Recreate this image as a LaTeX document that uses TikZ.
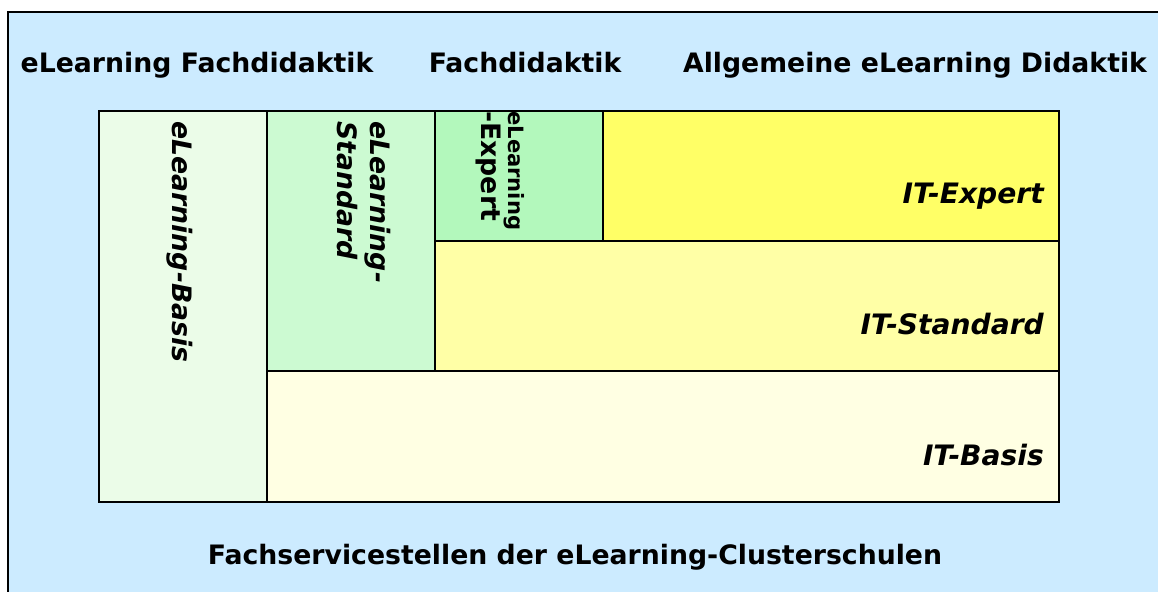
\documentclass[tikz,border=0pt]{standalone}
\usepackage{fontspec}
\setmainfont{DejaVu Sans}
\definecolor{skyback}{HTML}{CCEBFF}
\definecolor{elbasis}{HTML}{EBFCE8}
\definecolor{elstandard}{HTML}{CCFAD2}
\definecolor{elexpert}{HTML}{B3F8BC}
\definecolor{itexpert}{HTML}{FFFF66}
\definecolor{itstandard}{HTML}{FFFFA6}
\definecolor{itbasis}{HTML}{FFFFE3}
\begin{document}
\begin{tikzpicture}[x=0.025cm, y=-0.025cm,
  cell/.style={draw=black, line width=1.4pt},
  head/.style={font=\bfseries\fontsize{19}{22}\selectfont, anchor=base, inner sep=0pt},
  itlabel/.style={font=\bfseries\itshape\fontsize{20}{24}\selectfont, anchor=base east, inner sep=0pt},
  ellabel/.style={font=\bfseries\itshape\fontsize{19}{23}\selectfont, rotate=-90, anchor=west, align=left, inner sep=0pt}]
\useasboundingbox (0,0) rectangle (1158,592);
\draw[fill=skyback, line width=1.4pt] (8,12) rectangle (1172,606);
% eLearning columns
\filldraw[cell, fill=elbasis] (99,111) rectangle (267,502);
\filldraw[cell, fill=elstandard] (267,111) rectangle (435,371);
\filldraw[cell, fill=elexpert] (435,111) rectangle (603,241);
% IT rows
\filldraw[cell, fill=itexpert] (603,111) rectangle (1059,241);
\filldraw[cell, fill=itstandard] (435,241) rectangle (1059,371);
\filldraw[cell, fill=itbasis] (267,371) rectangle (1059,502);
\node[head] (h1) at (197,72) {eLearning Fachdidaktik};
\node[head] (h2) at (525,72) {Fachdidaktik};
\node[head] (h3) at (915,72) {Allgemeine eLearning Didaktik};
\node[head] (h4) at (575,564) {Fachservicestellen der eLearning-Clusterschulen};
\node[ellabel] (e1) at (180,121) {eLearning-Basis};
\node[ellabel] (e2) at (364,121) {eLearning-\\Standard};
\node[ellabel, font=\bfseries] (e3) at (500,111)
  {{\fontsize{15}{16}\selectfont eLearning}\\[1pt]{\fontsize{19}{20}\selectfont -Expert}};
\node[itlabel] (i1) at (1044,203) {IT-Expert};
\node[itlabel] (i2) at (1044,334) {IT-Standard};
\node[itlabel] (i3) at (1044,465) {IT-Basis};
\end{tikzpicture}
\end{document}
